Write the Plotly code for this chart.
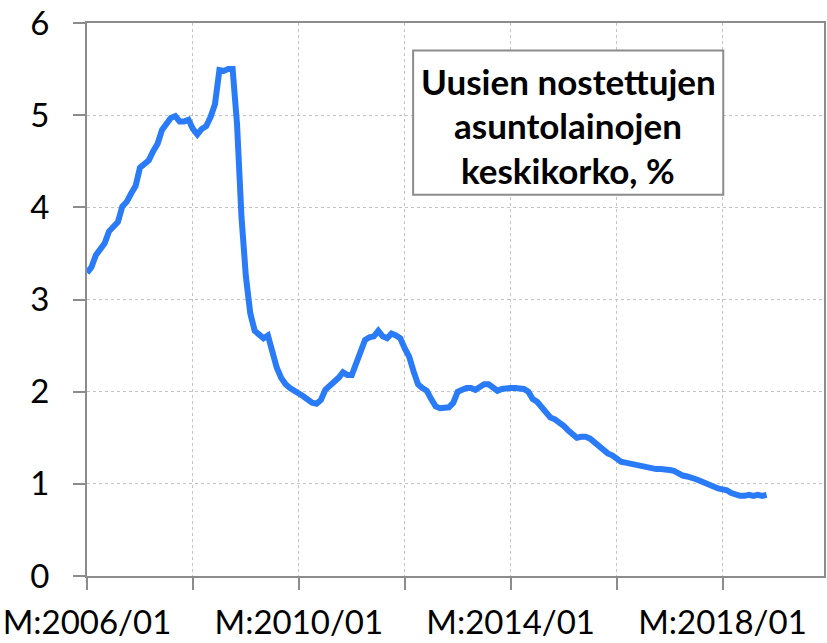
import plotly.graph_objects as go

# Monthly category labels 2006/01 .. 2019/12 (axis span)
years = list(range(2006, 2020))
months = [f"M:{y}/{m:02d}" for y in years for m in range(1, 13)]

# Average interest rate on newly drawn housing loans, % (2006/01 .. 2018/11)
rate = [
    3.29, 3.35, 3.48, 3.56, 3.61, 3.74, 3.80, 3.84, 4.01, 4.06, 4.15, 4.23,
    4.43, 4.48, 4.51, 4.61, 4.69, 4.84, 4.92, 4.97, 4.99, 4.93, 4.93, 4.95,
    4.85, 4.79, 4.85, 4.88, 4.98, 5.12, 5.49, 5.48, 5.50, 5.50, 4.90, 3.90,
    3.25, 2.85, 2.66, 2.62, 2.58, 2.61, 2.40, 2.26, 2.15, 2.08, 2.04, 2.00,
    1.98, 1.95, 1.91, 1.88, 1.87, 1.91, 2.02, 2.06, 2.09, 2.15, 2.21, 2.18,
    2.18, 2.30, 2.45, 2.56, 2.59, 2.60, 2.66, 2.60, 2.58, 2.63, 2.61, 2.58,
    2.47, 2.38, 2.22, 2.08, 2.04, 2.01, 1.92, 1.84, 1.82, 1.82, 1.83, 1.88,
    2.00, 2.02, 2.04, 2.04, 2.02, 2.05, 2.08, 2.08, 2.05, 2.01, 2.03, 2.04,
    2.04, 2.04, 2.04, 2.03, 2.00, 1.92, 1.89, 1.83, 1.76, 1.72, 1.70, 1.67,
    1.63, 1.58, 1.53, 1.50, 1.51, 1.51, 1.49, 1.45, 1.40, 1.36, 1.33, 1.31,
    1.28, 1.24, 1.23, 1.22, 1.21, 1.20, 1.18, 1.17, 1.16, 1.16, 1.16, 1.16,
    1.15, 1.14, 1.11, 1.09, 1.08, 1.07, 1.05, 1.03, 1.01, 0.98, 0.96, 0.95,
    0.94, 0.93, 0.90, 0.88, 0.87, 0.87, 0.88, 0.87, 0.88, 0.87, 0.88,
]

title_lines = ["Uusien nostettujen", "asuntolainojen", "keskikorko, %"]

FONT = "Lato"
AXIS_GREY = "#8C8C8C"
GRID_GREY = "#C4C4C4"

tick_cats = months[::24]
tick_text = [c if i % 2 == 0 else "" for i, c in enumerate(tick_cats)]

fig = go.Figure()
fig.add_trace(go.Scatter(
    x=months[:len(rate)], y=rate, mode="lines",
    line=dict(color="#2A7BF7", width=6, shape="linear"),
    hoverinfo="x+y", showlegend=False,
))

fig.update_layout(
    width=827, height=643,
    margin=dict(l=87, r=1, t=23, b=67),
    paper_bgcolor="white", plot_bgcolor="white",
    font=dict(family=FONT, size=33, color="#000000"),
    xaxis=dict(
        type="category", categoryorder="array", categoryarray=months,
        range=[0, len(months) - 1],
        tickmode="array", tickvals=tick_cats, ticktext=tick_text,
        ticks="outside", ticklen=12, tickwidth=2, tickcolor=AXIS_GREY,
        showline=True, linecolor=AXIS_GREY, linewidth=2, mirror=True,
        showgrid=True, gridcolor=GRID_GREY, gridwidth=1, griddash="3px,3px",
        zeroline=False, ticklabelstandoff=4,
        tickfont=dict(family=FONT, size=33, color="#000000"),
    ),
    yaxis=dict(
        range=[0, 6], tickmode="array", tickvals=[0, 1, 2, 3, 4, 5, 6],
        ticks="outside", ticklen=12, tickwidth=2, tickcolor=AXIS_GREY,
        showline=True, linecolor=AXIS_GREY, linewidth=2, mirror=True,
        showgrid=True, gridcolor=GRID_GREY, gridwidth=1, griddash="3px,3px",
        zeroline=False, ticklabelstandoff=17,
        tickfont=dict(family=FONT, size=33, color="#000000"),
    ),
)

# Boxed chart title inside the plot area
fig.add_shape(
    type="rect", xref="paper", yref="paper",
    x0=0.4425, x1=0.8633, y0=0.6896, y1=0.9502,
    line=dict(color="#8C8C8C", width=2), fillcolor="white", layer="above",
)
for text, yp in zip(title_lines, [0.8960, 0.8150, 0.7340]):
    fig.add_annotation(
        xref="paper", yref="paper", x=0.6529, y=yp,
        xanchor="center", yanchor="middle", showarrow=False,
        text=f"<b>{text}</b>",
        font=dict(family=FONT, size=35, color="#000000"),
    )

fig.write_html("out.html")
